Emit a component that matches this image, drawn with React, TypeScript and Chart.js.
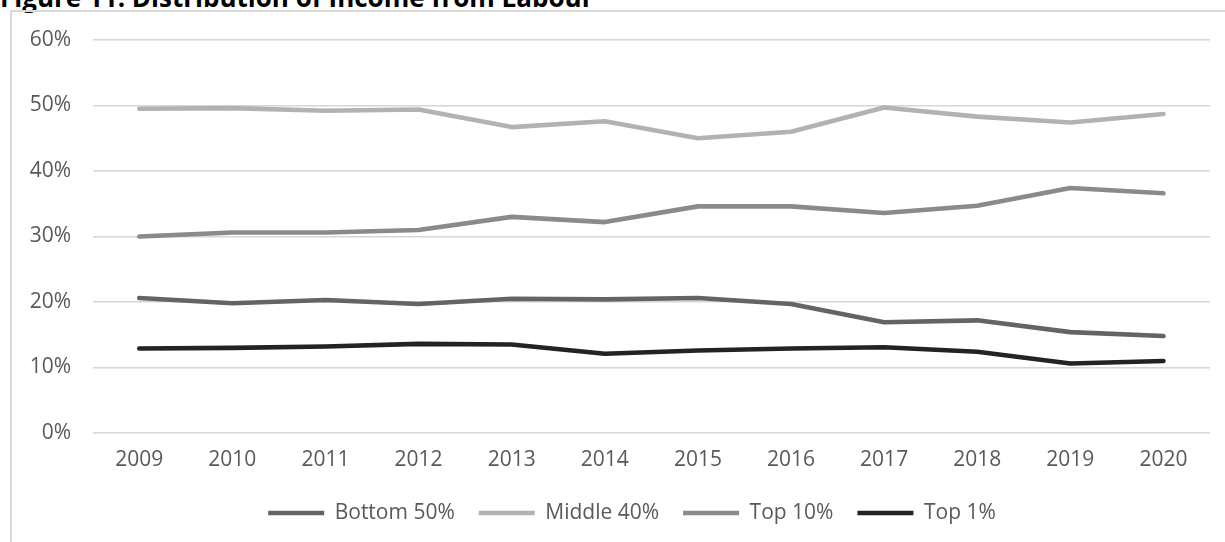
import React, { useEffect, useRef } from "react";
import { Chart, registerables } from "chart.js";

Chart.register(...registerables);

const years = ["2009", "2010", "2011", "2012", "2013", "2014", "2015", "2016", "2017", "2018", "2019", "2020"];
const bottom50 = [20.6, 19.8, 20.3, 19.7, 20.5, 20.4, 20.6, 19.7, 16.9, 17.2, 15.4, 14.8];
const middle40 = [49.5, 49.6, 49.2, 49.4, 46.7, 47.6, 45.0, 46.0, 49.7, 48.3, 47.4, 48.7];
const top10 = [30.0, 30.6, 30.6, 31.0, 33.0, 32.2, 34.6, 34.6, 33.6, 34.7, 37.4, 36.6];
const top1 = [12.9, 13.0, 13.2, 13.6, 13.5, 12.1, 12.6, 12.9, 13.1, 12.4, 10.6, 11.0];
const yMin = 0;
const yMax = 60;
const yStep = 10;

const titleText = "Figure 11: Distribution of Income from Labour";
const font = "'Open Sans', 'Noto Sans', sans-serif";

export default function App() {
  const ref = useRef<HTMLCanvasElement>(null);

  useEffect(() => {
    if (!ref.current) return;
    const mk = (label: string, data: number[], color: string) => ({
      label,
      data,
      yAxisID: "y",
      borderColor: color,
      backgroundColor: color,
      borderWidth: 4.6,
      borderCapStyle: "round" as const,
      borderJoinStyle: "round" as const,
      pointRadius: 0,
      pointHoverRadius: 0,
      pointStyle: "line" as const,
      tension: 0,
      fill: false,
    });
    const chart = new Chart(ref.current, {
      type: "line",
      data: {
        labels: years,
        datasets: [
          mk("Bottom 50%", bottom50, "#646464"),
          mk("Middle 40%", middle40, "#b2b2b2"),
          mk("Top 10%", top10, "#8a8a8a"),
          mk("Top 1%", top1, "#232323"),
        ],
      },
      options: {
        animation: false,
        responsive: false,
        maintainAspectRatio: false,
        layout: { padding: { left: 20, right: 0, top: 40, bottom: 26.5 } },
        plugins: {
          tooltip: { enabled: false },
          title: { display: false },
          legend: {
            display: true,
            position: "bottom",
            labels: {
              usePointStyle: true,
              pointStyleWidth: 56,
              padding: 24,
              color: "#595959",
              font: { family: font, size: 21 },
            },
          },
        },
        scales: {
          x: {
            offset: true,
            grid: { display: false, drawTicks: false },
            border: { display: false },
            ticks: {
              color: "#595959",
              font: { family: font, size: 21 },
              padding: 14,
              maxRotation: 0,
              autoSkip: false,
            },
            afterFit: (scale: any) => {
              scale.height = 45.5;
            },
          },
          y: {
            position: "left",
            min: yMin,
            max: yMax,
            grid: { color: "#d6d6d6", lineWidth: 1.5, drawTicks: false },
            border: { display: false },
            ticks: {
              stepSize: yStep,
              color: "#595959",
              font: { family: font, size: 21 },
              padding: 21.7,
              callback: (v: any) => `${v}%`,
            },
            afterFit: (scale: any) => {
              scale.width = 72.7;
            },
          },
          spacer: {
            type: "linear",
            position: "right",
            display: true,
            min: 0,
            max: 1,
            grid: { display: false, drawTicks: false },
            border: { display: false },
            ticks: { display: false },
            afterFit: (scale: any) => {
              scale.width = 34;
            },
          },
        },
      },
    });
    return () => chart.destroy();
  }, []);

  return (
    <div
      style={{
        position: "fixed",
        left: 0,
        top: 0,
        width: 1225,
        height: 542,
        overflow: "hidden",
        background: "#ffffff",
      }}
    >
      <div
        style={{
          position: "absolute",
          left: 0,
          top: -16,
          fontFamily: font,
          fontWeight: 700,
          fontSize: 26,
          lineHeight: "26px",
          color: "#000000",
          whiteSpace: "nowrap",
        }}
      >
        {titleText}
      </div>
      <div
        style={{
          position: "absolute",
          left: 10,
          top: 10,
          width: 1300,
          height: 600,
          border: "2px solid #d9d9d9",
          boxSizing: "border-box",
        }}
      />
      <canvas
        ref={ref}
        width={1244}
        height={560}
        style={{ position: "absolute", left: 0, top: 0, width: 1244, height: 560 }}
      />
    </div>
  );
}
